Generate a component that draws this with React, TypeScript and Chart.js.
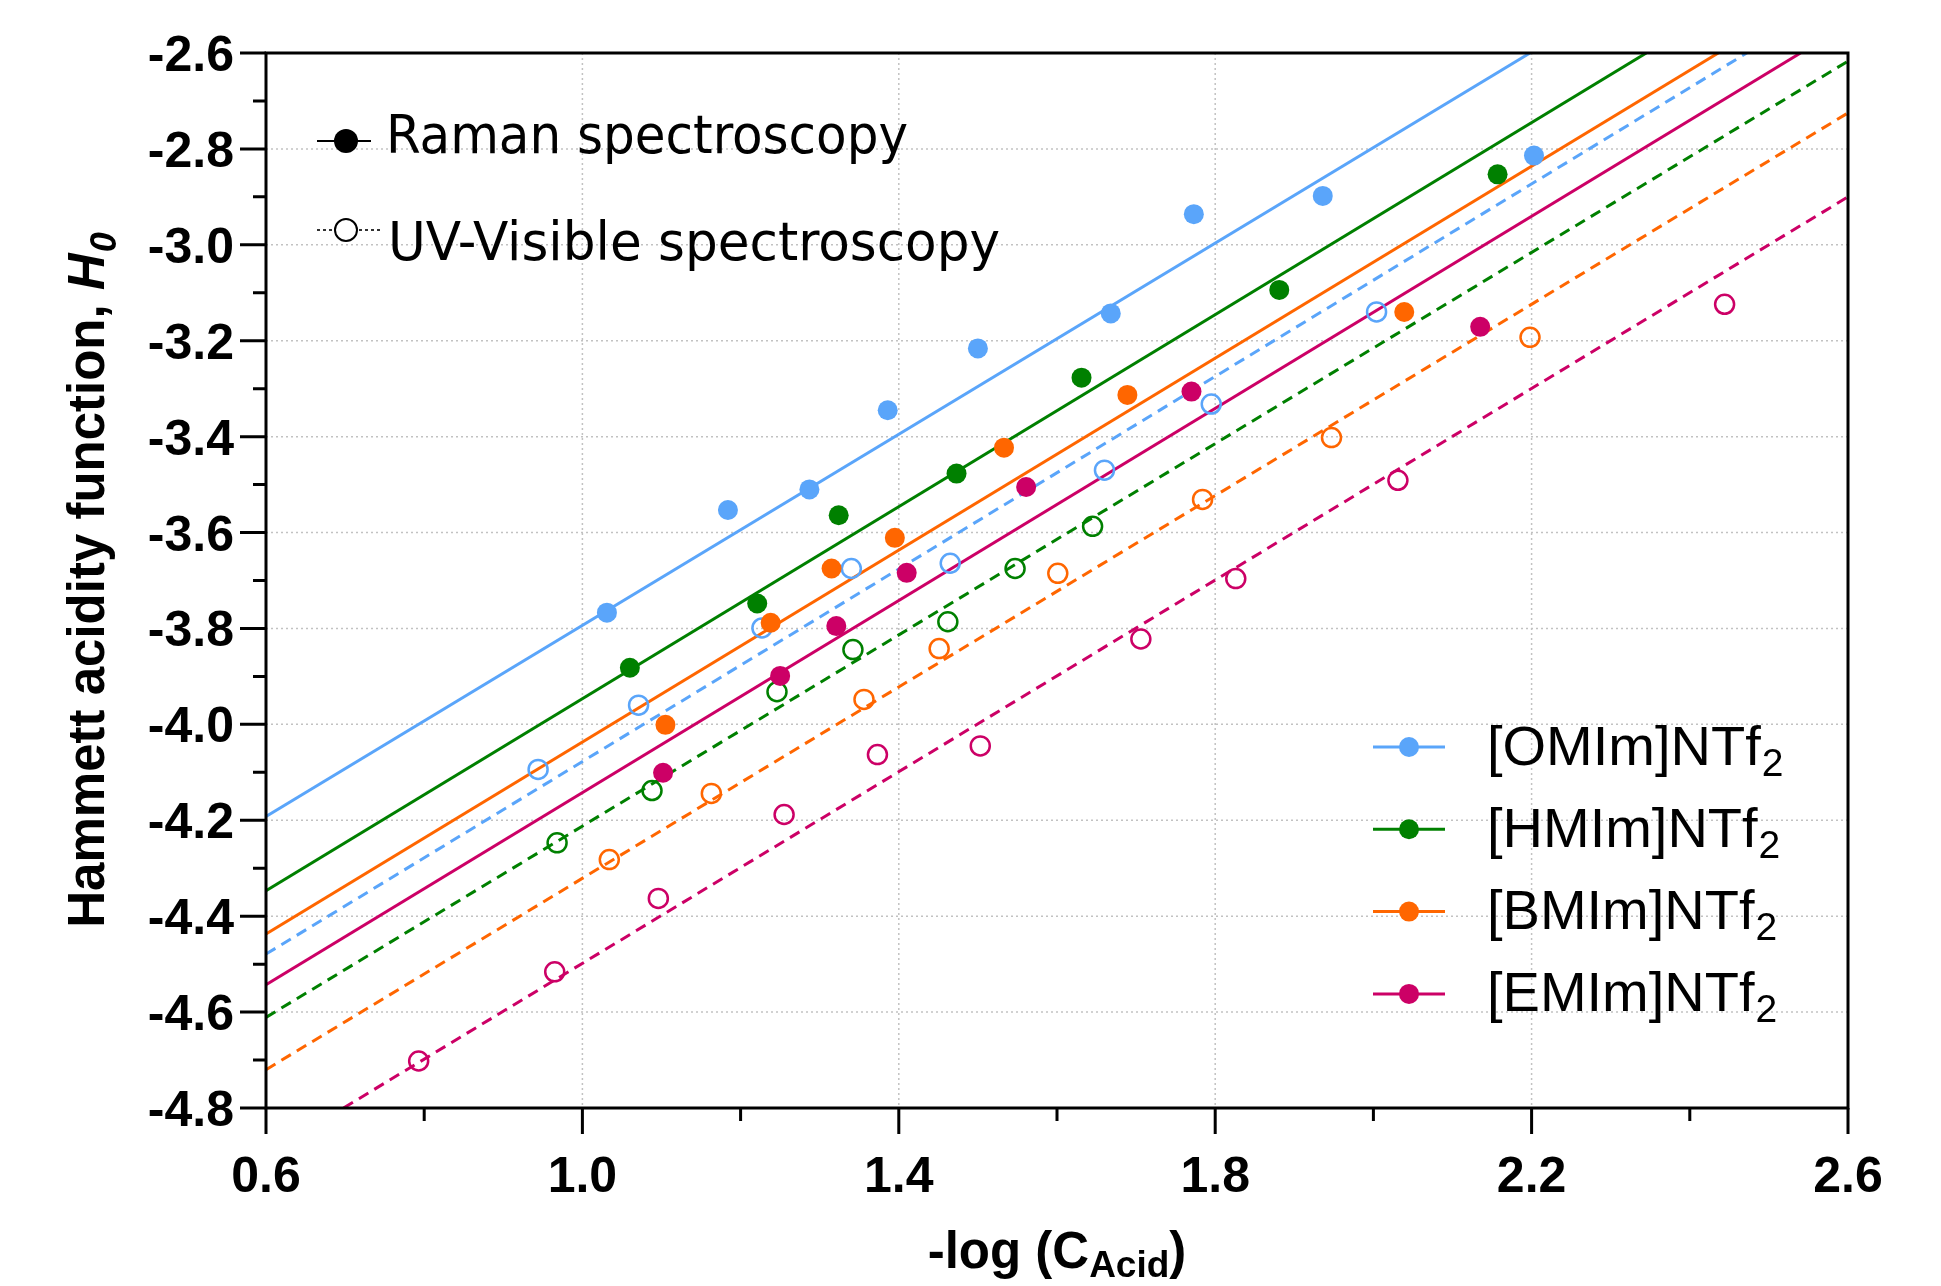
import React, { useEffect, useRef } from "react";
import { Chart, registerables } from "chart.js";

Chart.register(...registerables);

// ---------- data ----------
const omimRamanX = [1.031, 1.184, 1.287, 1.386, 1.5, 1.668, 1.773, 1.936, 2.203];
const omimRamanY = [-3.767, -3.553, -3.51, -3.345, -3.216, -3.143, -2.936, -2.898, -2.814];

const hmimRamanX = [1.06, 1.221, 1.324, 1.473, 1.631, 1.881, 2.157];
const hmimRamanY = [-3.882, -3.748, -3.564, -3.477, -3.277, -3.094, -2.853];

const bmimRamanX = [1.105, 1.238, 1.315, 1.395, 1.533, 1.689, 2.039];
const bmimRamanY = [-4.001, -3.788, -3.675, -3.611, -3.423, -3.313, -3.14];

const emimRamanX = [1.102, 1.25, 1.321, 1.41, 1.561, 1.77, 2.135];
const emimRamanY = [-4.101, -3.899, -3.795, -3.684, -3.505, -3.306, -3.171];

const omimUvX = [0.944, 1.071, 1.227, 1.34, 1.465, 1.66, 1.795, 2.004];
const omimUvY = [-4.094, -3.96, -3.799, -3.675, -3.664, -3.47, -3.332, -3.14];

const hmimUvX = [0.968, 1.088, 1.246, 1.342, 1.462, 1.547, 1.645];
const hmimUvY = [-4.247, -4.138, -3.932, -3.844, -3.786, -3.675, -3.587];

const bmimUvX = [1.034, 1.163, 1.356, 1.451, 1.601, 1.784, 1.947, 2.198];
const bmimUvY = [-4.282, -4.144, -3.948, -3.842, -3.685, -3.531, -3.402, -3.193];

const emimUvX = [0.793, 0.965, 1.096, 1.255, 1.373, 1.503, 1.706, 1.826, 2.031, 2.444];
const emimUvY = [-4.702, -4.516, -4.363, -4.188, -4.063, -4.045, -3.822, -3.696, -3.491, -3.124];

// fitted lines (end points)
const omimRamanFitX = [0.6, 2.198];
const omimRamanFitY = [-4.192, -2.6];
const hmimRamanFitX = [0.6, 2.345];
const hmimRamanFitY = [-4.347, -2.6];
const bmimRamanFitX = [0.6, 2.436];
const bmimRamanFitY = [-4.437, -2.6];
const emimRamanFitX = [0.6, 2.54];
const emimRamanFitY = [-4.543, -2.6];
const omimUvFitX = [0.6, 2.472];
const omimUvFitY = [-4.479, -2.6];
const hmimUvFitX = [0.6, 2.6];
const hmimUvFitY = [-4.611, -2.617];
const bmimUvFitX = [0.6, 2.6];
const bmimUvFitY = [-4.72, -2.725];
const emimUvFitX = [0.698, 2.6];
const emimUvFitY = [-4.8, -2.9];

// axes
const xMajorTicks = [0.6, 1.0, 1.4, 1.8, 2.2, 2.6];
const xTickLabels = ["0.6", "1.0", "1.4", "1.8", "2.2", "2.6"];
const xMinorTicks = [0.8, 1.2, 1.6, 2.0, 2.4];
const yMajorTicks = [-2.6, -2.8, -3.0, -3.2, -3.4, -3.6, -3.8, -4.0, -4.2, -4.4, -4.6, -4.8];
const yTickLabels = ["-2.6", "-2.8", "-3.0", "-3.2", "-3.4", "-3.6", "-3.8", "-4.0", "-4.2", "-4.4", "-4.6", "-4.8"];
const yMinorTicks = [-2.7, -2.9, -3.1, -3.3, -3.5, -3.7, -3.9, -4.1, -4.3, -4.5, -4.7];

const seriesNames = ["[OMIm]NTf", "[HMIm]NTf", "[BMIm]NTf", "[EMIm]NTf"];
const seriesSub = "2";
const methodNames = ["Raman spectroscopy", "UV-Visible spectroscopy"];
const yTitleMain = "Hammett acidity function, ";
const yTitleItalic = "H";
const yTitleSub = "0";
const xTitleMain = "-log (C";
const xTitleSub = "Acid";
const xTitleEnd = ")";

// ---------- styles ----------
const COLORS = ["#5aa5fa", "#008000", "#ff6600", "#cc0066"];
const TICK_FONT = '"Liberation Sans", Arial, sans-serif';
const DIN_FONT = '"DejaVu Sans Condensed", "DejaVu Sans", sans-serif';

function pts(xs: number[], ys: number[]) {
  return xs.map((x, i) => ({ x, y: ys[i] }));
}

function fillFit(ctx: CanvasRenderingContext2D, text: string, x: number, y: number, w: number) {
  const m = ctx.measureText(text).width;
  ctx.save();
  ctx.translate(x, y);
  ctx.scale(w / m, 1);
  ctx.fillText(text, 0, 0);
  ctx.restore();
}

const decor = {
  id: "decor",
  beforeDatasetsDraw(chart: any) {
    const { ctx, chartArea: a, scales } = chart;
    const xs = scales.x;
    const ys = scales.y;
    ctx.save();
    ctx.strokeStyle = "#c2c2c2";
    ctx.lineWidth = 1.5;
    ctx.setLineDash([2, 3]);
    for (const v of xMajorTicks) {
      const px = xs.getPixelForValue(v);
      if (px < a.left + 3 || px > a.right - 3) continue;
      ctx.beginPath();
      ctx.moveTo(px, a.top);
      ctx.lineTo(px, a.bottom);
      ctx.stroke();
    }
    for (const v of yMajorTicks) {
      const py = ys.getPixelForValue(v);
      if (py < a.top + 3 || py > a.bottom - 3) continue;
      ctx.beginPath();
      ctx.moveTo(a.left, py);
      ctx.lineTo(a.right, py);
      ctx.stroke();
    }
    ctx.restore();
  },
  afterDatasetsDraw(chart: any) {
    const { ctx, chartArea: a, scales } = chart;
    const xs = scales.x;
    const ys = scales.y;
    ctx.save();
    // frame
    ctx.strokeStyle = "#000";
    ctx.lineWidth = 3;
    ctx.setLineDash([]);
    ctx.strokeRect(a.left, a.top, a.right - a.left, a.bottom - a.top);
    // ticks
    ctx.lineWidth = 3;
    ctx.beginPath();
    for (const v of yMajorTicks) {
      const py = ys.getPixelForValue(v);
      ctx.moveTo(a.left - 26, py);
      ctx.lineTo(a.left, py);
    }
    for (const v of yMinorTicks) {
      const py = ys.getPixelForValue(v);
      ctx.moveTo(a.left - 13, py);
      ctx.lineTo(a.left, py);
    }
    for (const v of xMajorTicks) {
      const px = xs.getPixelForValue(v);
      ctx.moveTo(px, a.bottom);
      ctx.lineTo(px, a.bottom + 26);
    }
    for (const v of xMinorTicks) {
      const px = xs.getPixelForValue(v);
      ctx.moveTo(px, a.bottom);
      ctx.lineTo(px, a.bottom + 13);
    }
    ctx.stroke();

    // tick labels
    ctx.fillStyle = "#000";
    ctx.font = `bold 50px ${TICK_FONT}`;
    ctx.textBaseline = "alphabetic";
    ctx.textAlign = "right";
    yMajorTicks.forEach((v, i) => {
      ctx.fillText(yTickLabels[i], a.left - 32, ys.getPixelForValue(v) + 18);
    });
    ctx.textAlign = "center";
    xMajorTicks.forEach((v, i) => {
      ctx.fillText(xTickLabels[i], xs.getPixelForValue(v), a.bottom + 84);
    });

    // x title
    ctx.textAlign = "left";
    const bigX = `bold 51px ${TICK_FONT}`;
    const smallX = `bold 37px ${TICK_FONT}`;
    ctx.font = bigX;
    const w1 = ctx.measureText(xTitleMain).width;
    const w3 = ctx.measureText(xTitleEnd).width;
    ctx.font = smallX;
    const w2 = ctx.measureText(xTitleSub).width;
    const cx = (a.left + a.right) / 2;
    const sx = cx - (w1 + w2 + w3) / 2;
    const bx = 1268;
    ctx.font = bigX;
    ctx.fillText(xTitleMain, sx, bx);
    ctx.font = smallX;
    ctx.fillText(xTitleSub, sx + w1, bx + 9);
    ctx.font = bigX;
    ctx.fillText(xTitleEnd, sx + w1 + w2, bx);

    // y title
    ctx.save();
    const cy = (a.top + a.bottom) / 2;
    ctx.translate(104, cy);
    ctx.rotate(-Math.PI / 2);
    const fMain = `bold 51px ${TICK_FONT}`;
    const fIt = `italic bold 51px ${TICK_FONT}`;
    const fSub = `italic bold 36px ${TICK_FONT}`;
    ctx.font = fMain;
    const t1 = ctx.measureText(yTitleMain).width;
    ctx.font = fIt;
    const t2 = ctx.measureText(yTitleItalic).width;
    ctx.font = fSub;
    const t3 = ctx.measureText(yTitleSub).width;
    const st = -(t1 + t2 + t3) / 2;
    ctx.font = fMain;
    ctx.fillText(yTitleMain, st, 0);
    ctx.font = fIt;
    ctx.fillText(yTitleItalic, st + t1, 0);
    ctx.font = fSub;
    ctx.fillText(yTitleSub, st + t1 + t2 + 1, 12);
    ctx.restore();

    // method legend (top-left)
    ctx.strokeStyle = "#000";
    ctx.fillStyle = "#000";
    ctx.lineWidth = 2;
    ctx.beginPath();
    ctx.moveTo(317, 141);
    ctx.lineTo(371, 141);
    ctx.stroke();
    ctx.beginPath();
    ctx.arc(346, 141, 12, 0, Math.PI * 2);
    ctx.fill();
    ctx.lineWidth = 1.6;
    ctx.setLineDash([3, 3]);
    ctx.beginPath();
    ctx.moveTo(317, 230);
    ctx.lineTo(381, 230);
    ctx.stroke();
    ctx.setLineDash([]);
    ctx.lineWidth = 2;
    ctx.fillStyle = "#fff";
    ctx.beginPath();
    ctx.arc(346, 230, 11, 0, Math.PI * 2);
    ctx.fill();
    ctx.stroke();
    ctx.fillStyle = "#000";
    ctx.font = `53px ${DIN_FONT}`;
    fillFit(ctx, methodNames[0], 386, 153, 522);
    fillFit(ctx, methodNames[1], 388, 260, 612);

    // series legend (bottom-right)
    seriesNames.forEach((name, i) => {
      const ly = 747 + 82.3 * i;
      ctx.strokeStyle = COLORS[i];
      ctx.fillStyle = COLORS[i];
      ctx.lineWidth = 3;
      ctx.beginPath();
      ctx.moveTo(1373, ly);
      ctx.lineTo(1445, ly);
      ctx.stroke();
      ctx.beginPath();
      ctx.arc(1409, ly, 10, 0, Math.PI * 2);
      ctx.fill();
      ctx.fillStyle = "#000";
      ctx.font = `56px ${TICK_FONT}`;
      ctx.fillText(name, 1487, ly + 17.5);
      const nw = ctx.measureText(name).width;
      ctx.font = `39px ${TICK_FONT}`;
      ctx.fillText(seriesSub, 1487 + nw + 1, ly + 28.5);
    });
    ctx.restore();
  },
};

export default function App() {
  const ref = useRef<HTMLCanvasElement | null>(null);
  useEffect(() => {
    document.body.style.margin = "0";
    const canvas = ref.current;
    if (!canvas) return;

    const ramanX = [omimRamanX, hmimRamanX, bmimRamanX, emimRamanX];
    const ramanY = [omimRamanY, hmimRamanY, bmimRamanY, emimRamanY];
    const uvX = [omimUvX, hmimUvX, bmimUvX, emimUvX];
    const uvY = [omimUvY, hmimUvY, bmimUvY, emimUvY];
    const rfX = [omimRamanFitX, hmimRamanFitX, bmimRamanFitX, emimRamanFitX];
    const rfY = [omimRamanFitY, hmimRamanFitY, bmimRamanFitY, emimRamanFitY];
    const ufX = [omimUvFitX, hmimUvFitX, bmimUvFitX, emimUvFitX];
    const ufY = [omimUvFitY, hmimUvFitY, bmimUvFitY, emimUvFitY];

    const datasets: any[] = [];
    for (let i = 0; i < 4; i++) {
      datasets.push({
        label: seriesNames[i] + seriesSub + " Raman",
        data: pts(ramanX[i], ramanY[i]),
        showLine: false,
        pointRadius: 10,
        pointBorderWidth: 0,
        pointBackgroundColor: COLORS[i],
        pointBorderColor: COLORS[i],
        order: 0,
      });
    }
    for (let i = 0; i < 4; i++) {
      datasets.push({
        label: seriesNames[i] + seriesSub + " UV-Vis",
        data: pts(uvX[i], uvY[i]),
        showLine: false,
        pointRadius: 9.5,
        pointBorderWidth: 2.5,
        pointBackgroundColor: "rgba(0,0,0,0)",
        pointBorderColor: COLORS[i],
        order: 1,
      });
    }
    for (let i = 0; i < 4; i++) {
      datasets.push({
        label: seriesNames[i] + seriesSub + " Raman fit",
        data: pts(rfX[i], rfY[i]),
        showLine: true,
        pointRadius: 0,
        borderColor: COLORS[i],
        borderWidth: 3,
        order: 2,
      });
      datasets.push({
        label: seriesNames[i] + seriesSub + " UV-Vis fit",
        data: pts(ufX[i], ufY[i]),
        showLine: true,
        pointRadius: 0,
        borderColor: COLORS[i],
        borderWidth: 3,
        borderDash: [11, 7],
        order: 2,
      });
    }

    const chart = new Chart(canvas, {
      type: "scatter",
      data: { datasets },
      options: {
        animation: false,
        responsive: false,
        events: [],
        layout: { padding: { top: 53, right: 93, left: 0, bottom: 0 } },
        plugins: { legend: { display: false }, tooltip: { enabled: false } },
        scales: {
          x: {
            type: "linear",
            min: 0.6,
            max: 2.6,
            grid: { display: false },
            border: { display: false },
            ticks: { display: false },
            afterFit: (s: any) => {
              s.height = 178;
            },
          },
          y: {
            type: "linear",
            min: -4.8,
            max: -2.6,
            grid: { display: false },
            border: { display: false },
            ticks: { display: false },
            afterFit: (s: any) => {
              s.width = 266;
            },
          },
        },
      } as any,
      plugins: [decor],
    });
    return () => chart.destroy();
  }, []);

  return (
    <div style={{ width: 1941, height: 1286, overflow: "hidden", background: "#fff" }}>
      <canvas ref={ref} width={1941} height={1286} style={{ display: "block" }} />
    </div>
  );
}
